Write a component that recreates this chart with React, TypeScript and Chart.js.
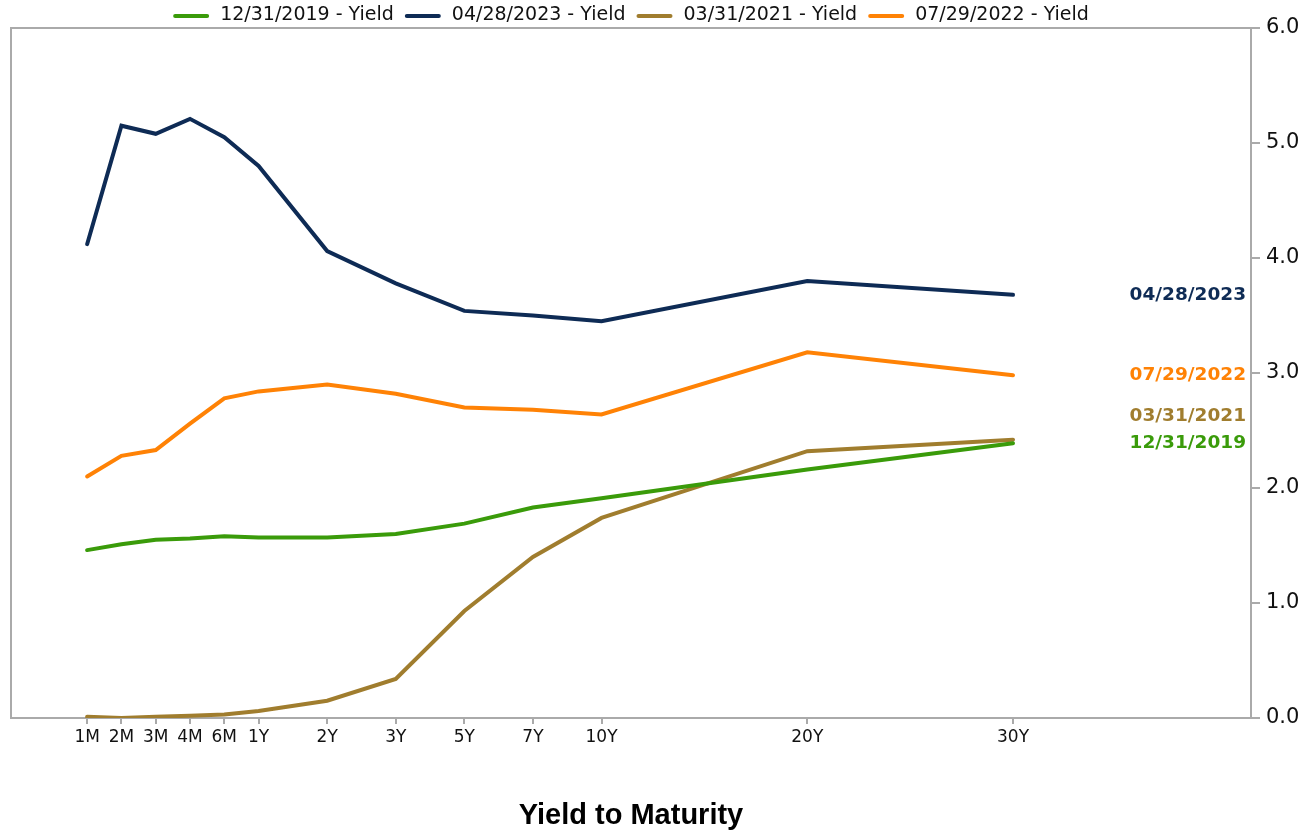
import React, { useEffect, useRef } from "react";
import { Chart, registerables } from "chart.js";

Chart.register(...registerables);

const maturities = ["1M", "2M", "3M", "4M", "6M", "1Y", "2Y", "3Y", "5Y", "7Y", "10Y", "20Y", "30Y"];
const maturitySlots = [0, 1, 2, 3, 4, 5, 7, 9, 11, 13, 15, 21, 27];
const seriesNames = ["12/31/2019", "04/28/2023", "03/31/2021", "07/29/2022"];
const yield20191231 = [1.46, 1.51, 1.55, 1.56, 1.58, 1.57, 1.57, 1.6, 1.69, 1.83, 1.91, 2.16, 2.39];
const yield20230428 = [4.12, 5.15, 5.08, 5.21, 5.05, 4.8, 4.06, 3.78, 3.54, 3.5, 3.45, 3.8, 3.68];
const yield20210331 = [0.01, 0.0, 0.01, 0.02, 0.03, 0.06, 0.15, 0.34, 0.93, 1.4, 1.74, 2.32, 2.42];
const yield20220729 = [2.1, 2.28, 2.33, 2.56, 2.78, 2.84, 2.9, 2.82, 2.7, 2.68, 2.64, 3.18, 2.98];
const yTicks = [0, 1, 2, 3, 4, 5, 6];

const seriesValues = [yield20191231, yield20230428, yield20210331, yield20220729];
const seriesColors = ["#3a9b0a", "#0e2b55", "#a07d2e", "#ff8205"];
const AXIS_COLOR = "#aaaaaa";

const borderPlugin = {
  id: "areaBorder",
  beforeDatasetsDraw(chart: any) {
    const { ctx, chartArea } = chart;
    ctx.save();
    ctx.strokeStyle = AXIS_COLOR;
    ctx.lineWidth = 2;
    ctx.beginPath();
    ctx.moveTo(chartArea.left, chartArea.bottom);
    ctx.lineTo(chartArea.left, chartArea.top);
    ctx.lineTo(chartArea.right, chartArea.top);
    ctx.stroke();
    ctx.restore();
  },
};

const legendPlugin = {
  id: "customLegend",
  afterDraw(chart: any) {
    const { ctx, chartArea } = chart;
    ctx.save();
    ctx.font = "19px 'DejaVu Sans'";
    const lineLen = 36;
    const gap = 11;
    const labels = chart.data.datasets.map((d: any) => d.label);
    const widths = labels.map((l: string) => ctx.measureText(l).width);
    let total = 0;
    widths.forEach((w: number, i: number) => {
      total += lineLen + gap + w + (i < widths.length - 1 ? gap : 0);
    });
    let x = (chartArea.left + chartArea.right) / 2 - total / 2;
    const y = 15;
    chart.data.datasets.forEach((d: any, i: number) => {
      ctx.strokeStyle = d.borderColor;
      ctx.lineWidth = 4;
      ctx.lineCap = "round";
      ctx.beginPath();
      ctx.moveTo(x + 2, y + 1);
      ctx.lineTo(x + lineLen - 2, y + 1);
      ctx.stroke();
      x += lineLen + gap;
      ctx.fillStyle = "#111";
      ctx.textBaseline = "middle";
      ctx.textAlign = "left";
      ctx.fillText(labels[i], x, y);
      x += widths[i] + gap;
    });
    ctx.restore();
  },
};

const endLabelPlugin = {
  id: "endLabels",
  afterDatasetsDraw(chart: any) {
    const { ctx, chartArea, scales } = chart;
    const items = chart.data.datasets.map((d: any, i: number) => {
      const last = d.data[d.data.length - 1];
      return { text: seriesNames[i], color: d.borderColor, y: scales.y.getPixelForValue(last.y) };
    });
    items.sort((a: any, b: any) => a.y - b.y);
    const minGap = 27;
    for (let i = items.length - 2; i >= 0; i--) {
      items[i].y = Math.min(items[i].y, items[i + 1].y - minGap);
    }
    ctx.save();
    ctx.font = "bold 18.5px 'DejaVu Sans'";
    ctx.textAlign = "right";
    ctx.textBaseline = "middle";
    items.forEach((it: any) => {
      ctx.fillStyle = it.color;
      ctx.fillText(it.text, chartArea.right - 5, it.y);
    });
    ctx.restore();
  },
};

export default function App() {
  const canvasRef = useRef<HTMLCanvasElement | null>(null);

  useEffect(() => {
    document.body.style.margin = "0";
    const canvas = canvasRef.current;
    if (!canvas) return;
    const datasets = seriesValues.map((vals, i) => ({
      label: `${seriesNames[i]} - Yield`,
      data: vals.map((v, j) => ({ x: maturitySlots[j], y: v })),
      borderColor: seriesColors[i],
      backgroundColor: seriesColors[i],
      borderWidth: 4,
      borderCapStyle: "round" as const,
      pointRadius: 0,
      tension: 0,
      fill: false,
    }));
    const chart = new Chart(canvas, {
      type: "line",
      data: { datasets },
      options: {
        animation: false,
        responsive: false,
        layout: { padding: { left: 11, top: 28, right: 0, bottom: 0 } },
        plugins: {
          legend: { display: false },
          tooltip: { enabled: false },
        },
        scales: {
          x: {
            type: "linear",
            position: "bottom",
            min: -2.22,
            max: 33.94,
            afterBuildTicks: (s: any) => {
              s.ticks = maturitySlots.map((v) => ({ value: v }));
            },
            afterFit: (s: any) => {
              s.height = 114;
            },
            ticks: {
              autoSkip: false,
              maxRotation: 0,
              padding: 3,
              color: "#111",
              font: { family: "'DejaVu Sans'", size: 17 },
              callback: (_v: any, idx: number) => maturities[idx],
            },
            grid: { drawOnChartArea: false, drawTicks: true, tickLength: 6, color: AXIS_COLOR, lineWidth: 2 },
            border: { color: AXIS_COLOR, width: 2 },
            title: {
              display: true,
              text: "Yield to Maturity",
              color: "#000",
              font: { family: "'Liberation Sans'", size: 29, weight: "bold", lineHeight: 1.1 },
              padding: { top: 0, bottom: 0 },
            },
          },
          y: {
            type: "linear",
            position: "right",
            min: 0,
            max: 6,
            afterBuildTicks: (s: any) => {
              s.ticks = yTicks.map((v) => ({ value: v }));
            },
            afterFit: (s: any) => {
              s.width = 55;
            },
            ticks: {
              padding: 6,
              color: "#111",
              font: { family: "'DejaVu Sans'", size: 21 },
              callback: (v: any) => Number(v).toFixed(1),
            },
            grid: { drawOnChartArea: false, drawTicks: true, tickLength: 9, color: AXIS_COLOR, lineWidth: 2 },
            border: { color: AXIS_COLOR, width: 2 },
          },
        },
      },
      plugins: [borderPlugin, endLabelPlugin, legendPlugin],
    });
    return () => chart.destroy();
  }, []);

  return (
    <div style={{ width: 1306, height: 832 }}>
      <canvas ref={canvasRef} width={1306} height={832} style={{ display: "block" }} />
    </div>
  );
}
